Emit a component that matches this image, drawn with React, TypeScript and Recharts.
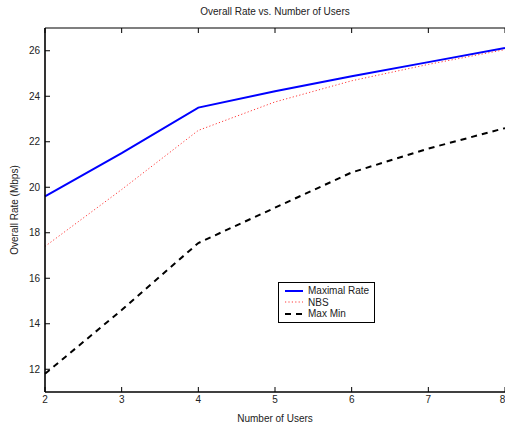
import { LineChart, Line, XAxis, YAxis } from "recharts";

const users = [2, 3, 4, 5, 6, 7, 8];
const maximalRate = [19.6, 21.5, 23.5, 24.22, 24.88, 25.5, 26.12];
const nbs = [17.4, 19.9, 22.5, 23.75, 24.68, 25.4, 26.05];
const maxMin = [11.8, 14.6, 17.55, 19.1, 20.65, 21.7, 22.6];

const xTicks = [2, 3, 4, 5, 6, 7, 8];
const yTicks = [12, 14, 16, 18, 20, 22, 24, 26];

const series = [
  { key: "maximal", name: "Maximal Rate", color: "#0000ff", width: 2, dash: undefined },
  { key: "nbs", name: "NBS", color: "#ff3b3b", width: 1, dash: "1.2 2.2" },
  { key: "maxmin", name: "Max Min", color: "#000000", width: 2, dash: "6 5" },
];

const data = users.map((u, i) => ({
  users: u,
  maximal: maximalRate[i],
  nbs: nbs[i],
  maxmin: maxMin[i],
}));

const FONT = "'Liberation Sans', Arial, Helvetica, sans-serif";
const tickStyle = { fontSize: 10, fill: "#222", fontFamily: FONT };

export default function App() {
  return (
    <div style={{ position: "fixed", left: 0, top: 0, width: 505, height: 426, background: "#fff" }}>
      <LineChart
        width={505}
        height={426}
        data={data}
        margin={{ top: 0, right: 0, bottom: 0, left: 0 }}
      >
        <XAxis
          xAxisId="b"
          dataKey="users"
          type="number"
          domain={[2, 8]}
          ticks={xTicks}
          height={34}
          tickSize={-5}
          tickMargin={9}
          tick={tickStyle}
          axisLine={{ stroke: "#000", strokeWidth: 1.6 }}
          tickLine={{ stroke: "#000" }}
          label={{
            value: "Number of Users",
            position: "insideBottom",
            offset: 4,
            style: { fontSize: 10, fill: "#222", fontFamily: FONT },
          }}
        />
        <XAxis
          xAxisId="t"
          orientation="top"
          dataKey="users"
          type="number"
          domain={[2, 8]}
          ticks={xTicks}
          height={28}
          tickSize={-5}
          tickFormatter={() => ""}
          axisLine={{ stroke: "#000", strokeWidth: 1.2 }}
          tickLine={{ stroke: "#000" }}
          label={{
            value: "Overall Rate vs. Number of Users",
            position: "insideTop",
            offset: 8,
            style: { fontSize: 10, fill: "#222", fontFamily: FONT },
          }}
        />
        <YAxis
          yAxisId="l"
          type="number"
          domain={[11, 27]}
          ticks={yTicks}
          width={45}
          tickSize={-5}
          tickMargin={10}
          tick={tickStyle}
          axisLine={{ stroke: "#000", strokeWidth: 1.6 }}
          tickLine={{ stroke: "#000" }}
          label={{
            value: "Overall Rate (Mbps)",
            content: () => (
              <text
                x={14}
                y={210}
                transform="rotate(-90 14 210)"
                textAnchor="middle"
                dominantBaseline="central"
                style={{ fontSize: 10, fill: "#222", fontFamily: FONT }}
              >
                Overall Rate (Mbps)
              </text>
            ),
          }}
        />
        <YAxis
          yAxisId="r"
          orientation="right"
          type="number"
          domain={[11, 27]}
          ticks={yTicks}
          width={0}
          tickSize={-5}
          tickFormatter={() => ""}
          axisLine={{ stroke: "#000", strokeWidth: 1.2 }}
          tickLine={{ stroke: "#000" }}
        />
        {series.map((s) => (
          <Line
            key={s.key}
            xAxisId="b"
            yAxisId="l"
            type="linear"
            dataKey={s.key}
            name={s.name}
            stroke={s.color}
            strokeWidth={s.width}
            strokeDasharray={s.dash}
            dot={false}
            activeDot={false}
            isAnimationActive={false}
          />
        ))}
      </LineChart>
      <div
        style={{
          position: "absolute",
          left: 278,
          top: 282,
          width: 95,
          padding: "2px 0",
          border: "1.5px solid #000",
          background: "#fff",
          fontFamily: FONT,
          fontSize: 10,
          color: "#222",
          lineHeight: "11.5px",
          whiteSpace: "nowrap",
        }}
      >
        {series.map((s) => (
          <div key={s.key} style={{ display: "flex", alignItems: "center", height: 11.5 }}>
            <svg width={20} height={6} style={{ marginLeft: 5, marginRight: 4, flexShrink: 0 }}>
              <line
                x1={1}
                x2={19}
                y1={3}
                y2={3}
                stroke={s.color}
                strokeWidth={s.width}
                strokeDasharray={s.dash}
              />
            </svg>
            <span>{s.name}</span>
          </div>
        ))}
      </div>
    </div>
  );
}
